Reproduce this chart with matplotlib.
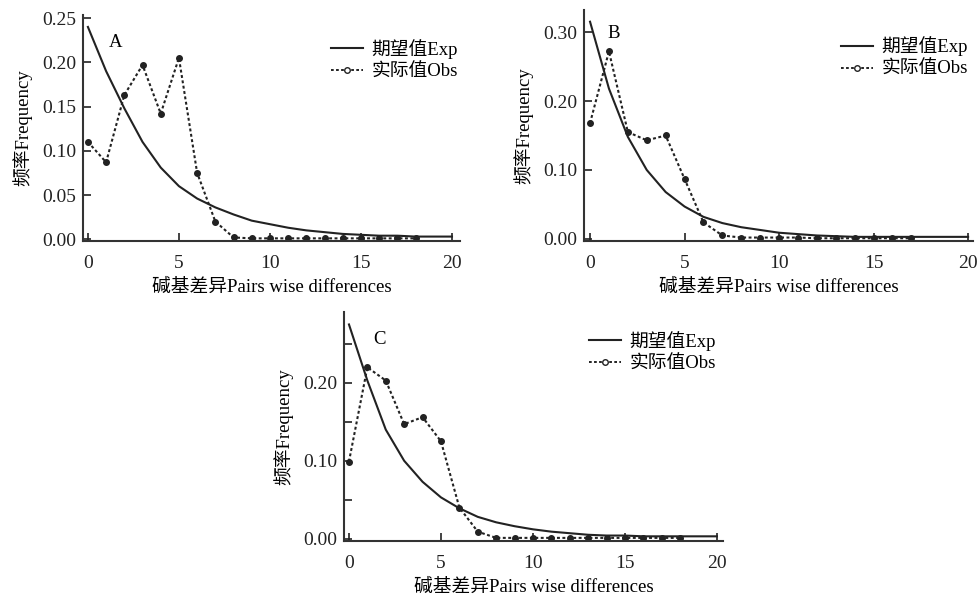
import numpy as np
import matplotlib
matplotlib.use('Agg')
from matplotlib import pyplot as plt
from matplotlib.lines import Line2D

plt.rcParams['font.family'] = ['Liberation Serif', 'Noto Sans CJK SC']
plt.rcParams['font.size'] = 13

# Expected (model) frequencies, x = 0..20
x_exp = np.arange(0, 21)
exp_a = [0.240, 0.190, 0.148, 0.110, 0.081, 0.060, 0.046, 0.036, 0.028, 0.021, 0.017,
         0.013, 0.010, 0.008, 0.006, 0.005, 0.004, 0.004, 0.003, 0.003, 0.003]
exp_b = [0.315, 0.218, 0.148, 0.100, 0.068, 0.047, 0.032, 0.023, 0.017, 0.013, 0.009,
         0.007, 0.005, 0.004, 0.003, 0.003, 0.003, 0.003, 0.003, 0.003, 0.003]
exp_c = [0.275, 0.203, 0.140, 0.100, 0.073, 0.053, 0.039, 0.028, 0.021, 0.016, 0.012,
         0.009, 0.007, 0.005, 0.004, 0.004, 0.003, 0.003, 0.003, 0.003, 0.003]

# Observed frequencies
obs_a = [0.110, 0.087, 0.163, 0.197, 0.142, 0.205, 0.075, 0.020, 0.002, 0.001,
         0.001, 0.001, 0.001, 0.001, 0.001, 0.001, 0.001, 0.001, 0.001]
obs_b = [0.168, 0.272, 0.155, 0.143, 0.150, 0.087, 0.024, 0.005, 0.002, 0.002,
         0.002, 0.002, 0.001, 0.001, 0.001, 0.001, 0.001, 0.001]
obs_c = [0.099, 0.220, 0.203, 0.147, 0.156, 0.125, 0.040, 0.009, 0.001, 0.001,
         0.001, 0.001, 0.001, 0.001, 0.001, 0.001, 0.001, 0.001, 0.001]

panels = [
    # name, exp, obs, rect, xlim, ylim, yticks, ytick labels, letter pos, legend anchor
    ('A', exp_a, obs_a, [83/979, 1-241/602, 377/979, 226/602], (-0.27, 20.44), (-0.002, 0.2535),
     [0, 0.05, 0.10, 0.15, 0.20, 0.25], ['0.00', '0.05', '0.10', '0.15', '0.20', '0.25'],
     (1.5, 0.222), (0.995, 0.895)),
    ('B', exp_b, obs_b, [584/979, 1-241/602, 389/979, 231/602], (-0.32, 20.26), (-0.003, 0.332),
     [0, 0.10, 0.20, 0.30], ['0.00', '0.10', '0.20', '0.30'], (1.25, 0.298), (0.987, 0.885)),
    ('C', exp_c, obs_c, [344/979, 1-541/602, 379/979, 229/602], (-0.27, 20.33), (-0.003, 0.291),
     [0, 0.05, 0.10, 0.15, 0.20, 0.25], ['0.00', '', '0.10', '', '0.20', ''],
     (1.65, 0.256), (0.982, 0.918)),
]

fig = plt.figure(figsize=(9.79, 6.02), dpi=100)

for name, exp, obs, rect, xlim, ylim, yticks, ylabels, letter, anchor in panels:
    ax = fig.add_axes(rect)
    ax.plot(x_exp, exp, color='#222222', lw=1.5, solid_joinstyle='round')
    ax.plot(np.arange(len(obs)), obs, color='#222222', lw=1.5, linestyle=(0, (1.4, 1.2)),
            marker='o', markersize=4, markerfacecolor='#222222', markeredgecolor='#222222')
    ax.set_xlim(xlim)
    ax.set_ylim(ylim)
    ax.set_xticks([0, 5, 10, 15, 20])
    ax.set_yticks(yticks)
    ax.set_yticklabels(ylabels)
    ax.tick_params(direction='in', length=6, width=1.2, colors='#222222', labelsize=14)
    ax.tick_params(axis='x', pad=10)
    ax.tick_params(axis='y', pad=5)
    for s in ['top', 'right']:
        ax.spines[s].set_visible(False)
    for s in ['left', 'bottom']:
        ax.spines[s].set_linewidth(1.5)
        ax.spines[s].set_color('#333333')
    ax.set_xlabel('碱基差异Pairs wise differences', fontsize=13.5, labelpad=5)
    ax.set_ylabel('频率Frequency', fontsize=13.5, labelpad=7)
    ax.text(letter[0], letter[1], name, fontsize=13.5, ha='center', va='center')

    handles = [Line2D([], [], color='#222222', lw=1.5),
               Line2D([], [], color='#222222', lw=1.4, linestyle=(0, (1.4, 1.2)), marker='o',
                      markersize=4, markerfacecolor='white', markeredgecolor='#222222')]
    ax.legend(handles, ['期望值Exp', '实际值Obs'], loc='upper right', bbox_to_anchor=anchor,
              frameon=False, fontsize=13.5, handlelength=1.7, handletextpad=0.45,
              labelspacing=0.25, borderaxespad=0, borderpad=0)

plt.savefig('out.png', dpi=100)
